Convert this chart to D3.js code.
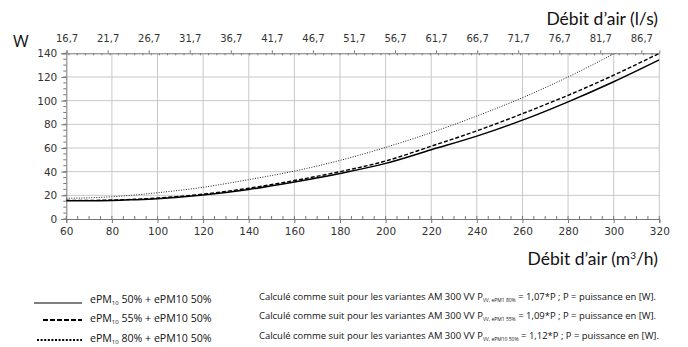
<!DOCTYPE html>
<html>
<head>
<meta charset="utf-8">
<script src="https://cdn.jsdelivr.net/npm/d3@7"></script>
<style>
  body { margin: 0; background: #fff; }
  svg { display: block; }
  .tick text { font-family: "DejaVu Sans", sans-serif; fill: #333; }
</style>
</head>
<body>
<div id="chart"></div>
<script>
// chart size
var svgWidth = 688;
var svgHeight = 347;
var margins = { top: 53.3, right: 28.7, left: 66.3, bottom: 128 };
var width = svgWidth - margins.left - margins.right;
var height = svgHeight - margins.top - margins.bottom;

// data (debit m3/h -> puissance W)
var flow = [60, 70, 80, 90, 100, 120, 140, 160, 180, 200, 220, 240, 260, 280, 300, 320];
var powerSolid = [15.5, 15.4, 15.6, 16.3, 17.2, 20.3, 25, 31.3, 38.5, 47, 58.5, 70, 83.5, 99, 116, 134.5];
var powerDashed = [15.8, 15.7, 16, 16.7, 17.7, 21, 26, 32.5, 40, 49, 61.5, 74.5, 89, 104.5, 121.5, 140];
var powerDotted = [17.5, 17.9, 18.8, 20.3, 22.2, 26.8, 33.3, 40.5, 49.5, 60.5, 73, 87, 102.5, 120, 139.5, 160];

var xTicks = [60, 80, 100, 120, 140, 160, 180, 200, 220, 240, 260, 280, 300, 320];
var yTicks = [0, 20, 40, 60, 80, 100, 120, 140];
var lsTicks = [16.7, 21.7, 26.7, 31.7, 36.7, 41.7, 46.7, 51.7, 56.7, 61.7, 66.7, 71.7, 76.7, 81.7, 86.7];

var legendNames = [
  { pre: 'ePM', sub: '10', post: ' 50% + ePM10 50%' },
  { pre: 'ePM', sub: '10', post: ' 55% + ePM10 50%' },
  { pre: 'ePM', sub: '10', post: ' 80% + ePM10 50%' }
];
var noteSubs = ['VV, ePM1 80%', 'VV, ePM1 55%', 'VV, ePM10 50%'];
var noteFactors = ['1,07', '1,09', '1,12'];

var series = [
  { values: powerSolid, dash: null, w: 1.5, color: '#000' },
  { values: powerDashed, dash: '4,2', w: 1.4, color: '#000' },
  { values: powerDotted, dash: '1,1.5', w: 1, color: '#222' }
];

var svg = d3.select('#chart').append('svg').attr('width', svgWidth).attr('height', svgHeight);
var chart = svg.append('g').attr('transform', `translate(${margins.left}, ${margins.top})`);

var xScale = d3.scaleLinear().domain([60, 320]).range([0, width]);
var yScale = d3.scaleLinear().domain([0, 140]).range([height, 0]);
// l/s on top, same physical flow
var lsScale = d3.scaleLinear().domain([60 / 3.6, 320 / 3.6]).range([0, width]);

// grid
chart.append('g').selectAll('line').data(xTicks.slice(1)).enter().append('line')
  .attr('x1', d => xScale(d)).attr('x2', d => xScale(d))
  .attr('y1', 0).attr('y2', height)
  .attr('stroke', '#c8c8c8').attr('stroke-width', 1);
chart.append('g').selectAll('line').data(yTicks.slice(1, -1)).enter().append('line')
  .attr('x1', 0).attr('x2', width)
  .attr('y1', d => yScale(d)).attr('y2', d => yScale(d))
  .attr('stroke', '#c8c8c8').attr('stroke-width', 1);

// minor ticks
var minorX = d3.range(60, 321, 5);
var minorY = d3.range(0, 141, 5);
var minorLs = d3.range(17, 89, 1);

var bottomAxis = d3.axisBottom(xScale).tickValues(xTicks).tickSize(4).tickPadding(5).tickFormat(d3.format('d'));
var gx = chart.append('g').attr('transform', `translate(0, ${height})`).call(bottomAxis);
gx.append('g').selectAll('line').data(minorX).enter().append('line')
  .attr('x1', d => xScale(d)).attr('x2', d => xScale(d)).attr('y1', 0).attr('y2', -3);

var leftAxis = d3.axisLeft(yScale).tickValues(yTicks).tickSize(5).tickPadding(4);
var gy = chart.append('g').call(leftAxis);
gy.append('g').selectAll('line').data(minorY).enter().append('line')
  .attr('y1', d => yScale(d)).attr('y2', d => yScale(d)).attr('x1', 0).attr('x2', -3);

var topAxis = d3.axisTop(lsScale).tickValues(lsTicks).tickSize(3).tickPadding(8)
  .tickFormat(d => d3.format('.1f')(d).replace('.', ','));
var gt = chart.append('g').call(topAxis);
gt.append('g').selectAll('line').data(minorLs).enter().append('line')
  .attr('x1', d => lsScale(d)).attr('x2', d => lsScale(d)).attr('y1', 0).attr('y2', 2);

[gx, gy, gt].forEach(function(g) {
  g.select('.domain').attr('stroke', '#777');
  g.selectAll('line').attr('stroke', '#777');
  g.selectAll('.tick text').attr('font-size', '10.5px');
});
gt.selectAll('.tick text').attr('font-size', '10px');

// curves
svg.append('clipPath').attr('id', 'plotclip').append('rect')
  .attr('x', 0).attr('y', 0).attr('width', width).attr('height', height);

var line = d3.line()
  .x((d, i) => xScale(flow[i]))
  .y(d => yScale(d))
  .curve(d3.curveMonotoneX);

chart.append('g').attr('clip-path', 'url(#plotclip)')
  .selectAll('path').data(series).enter().append('path')
  .attr('d', d => line(d.values))
  .attr('fill', 'none')
  .attr('stroke', d => d.color)
  .attr('stroke-width', d => d.w)
  .attr('stroke-dasharray', d => d.dash);

// axis titles
svg.append('text').attr('x', 13).attr('y', 47)
  .attr('font-family', 'Open Sans, sans-serif').attr('font-size', '17px').attr('fill', '#111')
  .text('W');

svg.append('text').attr('x', 658).attr('y', 25).attr('text-anchor', 'end')
  .attr('font-family', 'Lato, sans-serif').attr('font-size', '17.5px').attr('fill', '#111')
  .text('Débit d’air (l/s)');

var xt = svg.append('text').attr('x', 658).attr('y', 265).attr('text-anchor', 'end')
  .attr('font-family', 'Lato, sans-serif').attr('font-size', '17.5px').attr('fill', '#111');
xt.append('tspan').text('Débit d’air (m');
xt.append('tspan').attr('font-size', '10px').attr('dy', -6).text('3');
xt.append('tspan').attr('dy', 6).text('/h)');

// legend
var legendY = [303, 322, 342];
var legendDash = [null, '5,2', '2,1.6'];
var legendX1 = [34, 43, 37];
var legend = svg.append('g');
legendNames.forEach(function(n, i) {
  legend.append('line')
    .attr('x1', legendX1[i]).attr('x2', 82)
    .attr('y1', legendY[i] - (i === 0 ? 0 : 2)).attr('y2', legendY[i] - (i === 0 ? 0 : 2))
    .attr('stroke', '#000').attr('stroke-width', i === 0 ? 1.2 : 2)
    .attr('stroke-dasharray', legendDash[i]);
  var t = legend.append('text').attr('x', 90).attr('y', legendY[i])
    .attr('font-family', 'Open Sans, sans-serif').attr('font-size', '10.6px').attr('fill', '#111');
  t.append('tspan').text(n.pre);
  t.append('tspan').attr('font-size', '6px').attr('dy', 2).text(n.sub);
  t.append('tspan').attr('dy', -2).text(n.post);

  var nt = legend.append('text').attr('x', 259).attr('y', legendY[i] - 3)
    .attr('font-family', 'Open Sans, sans-serif').attr('font-size', '9.45px').attr('fill', '#111');
  nt.append('tspan').text('Calculé comme suit pour les variantes AM 300 VV P');
  nt.append('tspan').attr('font-size', '5px').attr('dy', 2).text(noteSubs[i]);
  nt.append('tspan').attr('dy', -2).text(' = ' + noteFactors[i] + '*P ; P = puissance en [W].');
});
</script>
</body>
</html>
